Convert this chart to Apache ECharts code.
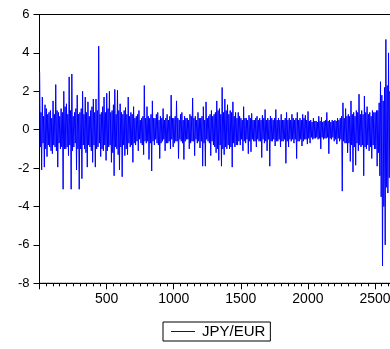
<!DOCTYPE html>
<html>
<head>
<meta charset="utf-8">
<script src="https://cdn.jsdelivr.net/npm/echarts@6/dist/echarts.min.js"></script>
<style>
  html, body { margin: 0; padding: 0; background: #fff; }
  #chart { width: 390px; height: 349px; }
</style>
</head>
<body>
<div id="chart"></div>
<script>
// JPY/EUR daily returns.
// upper: highs at obs 1, 11, 21, ...  lower: lows at obs 6, 16, 26, ...
const seriesName = 'JPY/EUR';
const obsStart = 1;
const obsStep = 10;
const upper = [
  3.0, 0.9, 1.7, 0.7, 1.3, 1.1, 0.8, 0.9, 1.0, 0.6,
  1.5, 0.8, 2.35, 1.0, 0.9, 0.7, 1.1, 0.9, 2.0, 1.2,
  1.35, 0.8, 2.75, 1.0, 2.9, 0.7, 0.9, 1.1, 1.8, 0.8,
  0.9, 1.1, 2.0, 0.8, 1.7, 0.9, 1.45, 0.7, 1.0, 1.2,
  1.6, 0.9, 1.6, 1.0, 4.35, 0.8, 0.9, 1.2, 1.7, 0.9,
  1.9, 1.1, 2.0, 0.9, 1.0, 1.3, 2.1, 0.8, 2.05, 1.0,
  1.35, 0.9, 0.8, 1.0, 1.15, 0.8, 1.7, 0.7, 0.9, 0.8,
  1.2, 0.6, 0.7, 0.8, 1.0, 0.5, 0.6, 0.7, 2.3, 0.6,
  1.2, 0.7, 0.6, 0.8, 1.5, 0.6, 0.6, 0.8, 0.9, 0.5,
  0.7, 0.6, 1.1, 0.5, 0.6, 0.8, 0.5, 0.7, 1.8, 0.6,
  0.6, 0.7, 1.5, 0.6, 0.5, 0.8, 0.9, 0.5, 0.7, 0.6,
  0.6, 0.5, 0.8, 0.7, 1.65, 0.6, 0.7, 0.5, 0.9, 0.6,
  0.6, 0.7, 1.2, 0.5, 1.45, 0.6, 0.7, 0.8, 1.0, 0.7,
  0.8, 0.9, 1.5, 1.0, 1.1, 0.8, 2.2, 0.9, 1.6, 1.0,
  1.3, 0.8, 1.0, 0.9, 1.45, 0.7, 0.9, 0.6, 0.9, 0.7,
  0.6, 0.5, 1.2, 0.6, 0.6, 0.5, 0.75, 0.6, 0.85, 0.5,
  0.5, 0.6, 0.7, 0.5, 0.6, 0.5, 0.75, 0.6, 1.05, 0.5,
  0.6, 0.5, 0.7, 0.6, 0.5, 0.6, 1.05, 0.5, 0.6, 0.5,
  0.8, 0.5, 0.5, 0.6, 0.9, 0.5, 0.6, 0.5, 0.8, 0.6,
  0.5, 0.6, 0.9, 0.5, 0.6, 0.5, 0.8, 0.6, 0.75, 0.5,
  0.95, 0.45, 0.5, 0.4, 0.6, 0.45, 0.45, 0.4, 0.7, 0.45,
  0.65, 0.4, 0.45, 0.5, 0.9, 0.45, 0.5, 0.4, 0.5, 0.45,
  0.5, 0.45, 0.6, 0.5, 0.6, 0.7, 1.4, 0.6, 1.1, 0.7,
  0.8, 0.7, 1.5, 0.8, 0.9, 0.7, 1.0, 0.9, 1.85, 0.8,
  1.0, 0.8, 1.75, 0.9, 1.2, 0.8, 0.9, 0.7, 1.0, 0.9,
  0.9, 1.0, 1.0, 1.4, 2.5, 1.8, 1.5, 2.2, 4.7, 2.3,
  4.0, 2.0, 2.5, 2.2
];
const lower = [
  -0.9, -2.1, -0.7, -1.95, -1.0, -1.4, -0.8, -0.9, -1.1, -1.25,
  -0.8, -0.9, -1.1, -1.95, -0.7, -1.0, -0.9, -3.1, -1.0, -1.0,
  -0.9, -1.35, -0.8, -3.1, -1.1, -0.9, -0.7, -2.1, -1.0, -3.1,
  -1.0, -2.55, -0.8, -1.0, -1.2, -1.95, -0.8, -0.9, -1.1, -1.7,
  -0.8, -1.95, -1.0, -0.9, -0.7, -1.4, -1.0, -1.1, -0.8, -1.6,
  -1.1, -0.9, -0.8, -1.7, -1.2, -2.4, -0.9, -1.0, -1.3, -2.1,
  -0.9, -2.45, -0.8, -1.35, -1.0, -1.3, -0.7, -0.9, -0.8, -1.7,
  -0.7, -0.8, -0.6, -1.1, -0.5, -0.7, -0.8, -1.3, -0.6, -0.7,
  -0.6, -1.55, -0.7, -2.15, -0.6, -0.8, -0.5, -0.7, -0.8, -1.5,
  -0.7, -0.6, -0.5, -1.1, -0.7, -0.7, -0.6, -1.0, -0.5, -0.9,
  -0.7, -0.6, -0.6, -1.5, -0.5, -0.6, -0.7, -1.55, -0.6, -0.5,
  -0.5, -1.0, -0.7, -0.6, -0.6, -1.35, -0.5, -0.7, -0.6, -0.95,
  -0.6, -1.9, -0.7, -1.9, -0.5, -0.6, -0.7, -1.35, -0.6, -0.8,
  -0.9, -1.2, -1.0, -1.6, -0.8, -1.9, -1.0, -1.3, -0.9, -1.0,
  -0.8, -1.0, -0.9, -1.95, -0.7, -0.9, -0.8, -0.8, -0.6, -0.8,
  -0.5, -1.1, -0.6, -0.7, -0.5, -1.25, -0.6, -1.15, -0.5, -0.6,
  -0.6, -0.9, -0.5, -0.6, -0.6, -1.45, -0.5, -0.7, -0.6, -1.1,
  -0.5, -1.9, -0.6, -0.6, -0.5, -0.85, -0.6, -0.6, -0.5, -0.9,
  -0.6, -0.6, -0.5, -1.75, -0.6, -0.9, -0.5, -0.6, -0.5, -0.7,
  -0.5, -1.5, -0.6, -0.6, -0.5, -0.85, -0.6, -0.5, -0.5, -0.75,
  -0.45, -0.7, -0.4, -0.5, -0.45, -0.45, -0.4, -0.5, -0.45, -1.0,
  -0.4, -0.5, -0.45, -0.45, -0.4, -1.25, -0.45, -0.5, -0.4, -0.6,
  -0.5, -0.75, -0.45, -0.6, -0.5, -3.2, -0.6, -0.7, -0.7, -1.2,
  -0.7, -1.65, -0.8, -2.2, -0.9, -1.85, -0.7, -1.1, -0.8, -0.9,
  -0.8, -2.4, -0.9, -1.0, -0.8, -1.1, -0.9, -1.5, -0.8, -1.0,
  -1.0, -1.9, -1.2, -2.4, -3.5, -7.1, -4.0, -6.0, -3.0, -3.3,
  -2.5, -3.8, -2.8, -3.0
];
const xTickLabels = [500, 1000, 1500, 2000, 2500];
const yTickLabels = [-8, -6, -4, -2, 0, 2, 4, 6];

// interleave highs and lows in observation order
const seriesData = [];
upper.forEach((hi, i) => {
  const x = obsStart + i * obsStep;
  seriesData.push([x, hi]);
  if (i < lower.length) seriesData.push([x + obsStep / 2, lower[i]]);
});

const font = 'Liberation Sans, Arial, Helvetica, sans-serif';
const chart = echarts.init(document.getElementById('chart'), null, { renderer: 'canvas' });

chart.setOption({
  animation: false,
  backgroundColor: '#fff',
  grid: {
    left: 39.5,
    top: 14.5,
    width: 402.6,   // plot runs past the right edge, as in the cropped original
    height: 268.8,
    outerBoundsMode: 'none',
    containLabel: false,
    show: true,
    borderColor: '#000',
    borderWidth: 1
  },
  legend: {
    left: 163,
    top: 322,
    padding: [2, 5, 2, 8],
    borderColor: '#000',
    borderWidth: 1,
    itemWidth: 24,
    itemHeight: 1,
    itemGap: 0,
    data: [{ name: seriesName, icon: 'rect' }],
    textStyle: { color: '#000', fontSize: 15, fontFamily: font, padding: [0, 0, 0, 2] }
  },
  xAxis: {
    type: 'value',
    min: 0,
    max: 3000,
    interval: 500,
    splitLine: { show: false },
    axisLine: { onZero: false, lineStyle: { color: '#000', width: 1 } },
    axisTick: { show: true, inside: false, length: 6, lineStyle: { color: '#000' } },
    minorTick: { show: true, splitNumber: 10, length: 3, lineStyle: { color: '#000' } },
    axisLabel: {
      color: '#000', fontSize: 14, fontFamily: font, margin: 9,
      showMaxLabel: false,
      formatter: v => (xTickLabels.includes(v) ? String(v) : '')
    }
  },
  yAxis: {
    type: 'value',
    min: -8,
    max: 6,
    interval: 2,
    splitLine: { show: false },
    axisLine: { show: true, onZero: false, lineStyle: { color: '#000', width: 1 } },
    axisTick: { show: true, inside: false, length: 6, lineStyle: { color: '#000' } },
    axisLabel: {
      color: '#000', fontSize: 13, fontFamily: font, margin: 10,
      formatter: v => (yTickLabels.includes(v) ? String(v) : '')
    }
  },
  series: [{
    name: seriesName,
    type: 'line',
    data: seriesData,
    showSymbol: false,
    symbol: 'none',
    lineStyle: { color: '#0000ff', width: 1 },
    itemStyle: { color: '#0000ff' },
    clip: true
  }]
});
</script>
</body>
</html>
